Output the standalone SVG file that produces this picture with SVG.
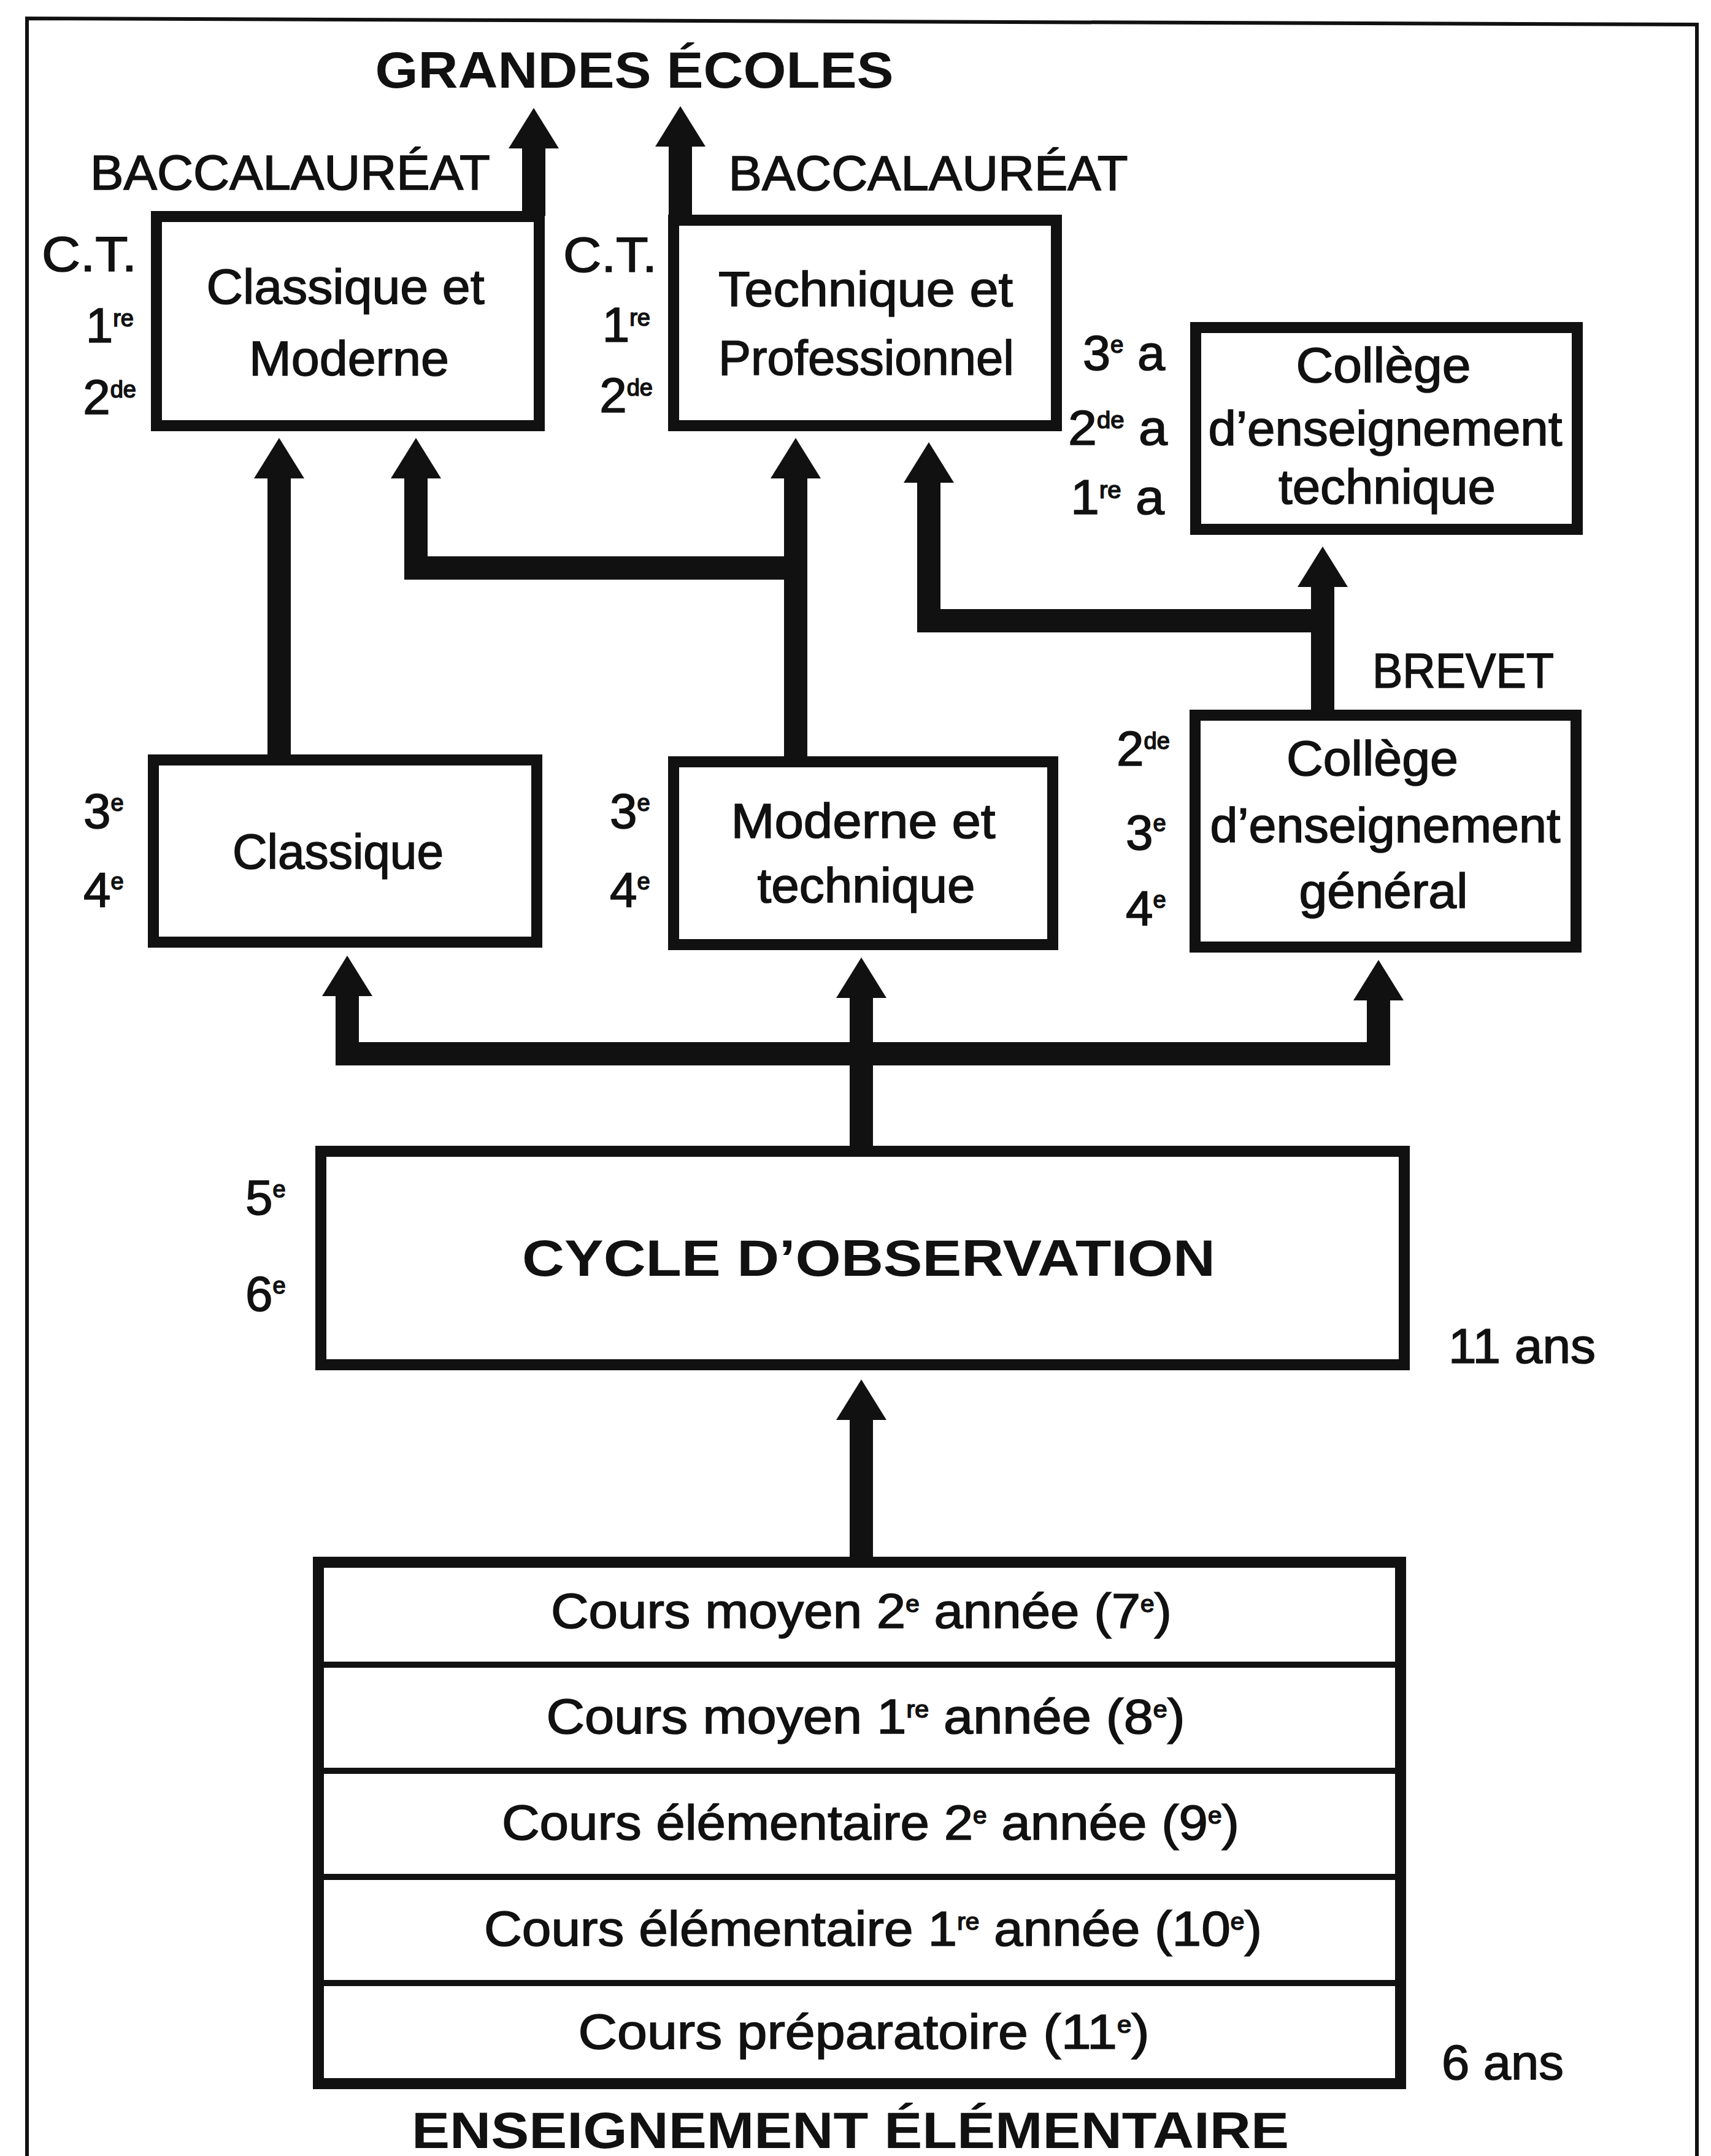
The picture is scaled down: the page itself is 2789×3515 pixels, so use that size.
<svg xmlns="http://www.w3.org/2000/svg" width="2789" height="3515" viewBox="0 0 2789 3515">
<defs>
<style>
.t{font-family:"Liberation Sans","DejaVu Sans",Arial,sans-serif;font-size:80px;fill:#111;stroke:#111;stroke-width:1.6px;}
.h{font-family:"Liberation Sans","DejaVu Sans",Arial,sans-serif;font-size:84px;font-weight:bold;fill:#111;}
.s{font-size:38px;}
.box{fill:#fff;stroke:#111;stroke-width:18;}
.dv{stroke:#111;stroke-width:10;fill:none;}
.c{fill:none;stroke:#111;stroke-width:38;stroke-linejoin:miter;stroke-linecap:butt;marker-end:url(#ah);}
.frame{fill:none;stroke:#111;stroke-width:6;}
</style>
<marker id="ah" markerUnits="userSpaceOnUse" markerWidth="66" markerHeight="82" viewBox="0 0 66 82" refX="1" refY="41" orient="auto">
<path d="M0,0 L66,41 L0,82 z" fill="#111"/>
</marker>
</defs>
<rect x="0" y="0" width="2789" height="3515" fill="#fff"/>
<path class="frame" d="M44,3520 L44,30 L2766,40 L2766,3520"/>

<g id="connectors">
<path class="c" d="M870,352 V241"/>
<path class="c" d="M1109,359 V238"/>
<path class="c" d="M455,1239 V779"/>
<path class="c" d="M1297,1242 V779"/>
<path class="c" d="M1297,926 H678 V779"/>
<path class="c" d="M2156,1166 V956"/>
<path class="c" d="M2156,1012 H1514 V786"/>
<path class="c" d="M1404,1877 V1626"/>
<path class="c" d="M1404,1718 H566 V1623"/>
<path class="c" d="M1404,1718 H2247 V1630"/>
<path class="c" d="M1404,2547 V2314"/>
</g>

<g id="titles">
<text class="h" x="1034" y="143" text-anchor="middle" textLength="845" lengthAdjust="spacingAndGlyphs">GRANDES ÉCOLES</text>
<text class="t" x="473" y="309" text-anchor="middle" textLength="652" lengthAdjust="spacingAndGlyphs">BACCALAURÉAT</text>
<text class="t" x="1513" y="310" text-anchor="middle" textLength="651" lengthAdjust="spacingAndGlyphs">BACCALAURÉAT</text>
<text class="t" x="2385" y="1121" text-anchor="middle" textLength="296" lengthAdjust="spacingAndGlyphs">BREVET</text>
<text class="h" x="1386" y="3502" text-anchor="middle" textLength="1430" lengthAdjust="spacingAndGlyphs">ENSEIGNEMENT ÉLÉMENTAIRE</text>
</g>

<g id="labels">
<text class="t" x="68" y="442" textLength="155" lengthAdjust="spacingAndGlyphs">C.T.</text>
<text class="t" x="218" y="558" text-anchor="end">1<tspan class="s" dy="-26">re</tspan></text>
<text class="t" x="222" y="675" text-anchor="end">2<tspan class="s" dy="-27">de</tspan></text>
<text class="t" x="918" y="443" textLength="153" lengthAdjust="spacingAndGlyphs">C.T.</text>
<text class="t" x="1060" y="557" text-anchor="end">1<tspan class="s" dy="-26">re</tspan></text>
<text class="t" x="1064" y="672" text-anchor="end">2<tspan class="s" dy="-27">de</tspan></text>
<text class="t" x="1765" y="603" textLength="134" lengthAdjust="spacingAndGlyphs">3<tspan class="s" dy="-28">e</tspan><tspan dy="28"> a</tspan></text>
<text class="t" x="1741" y="725" textLength="162" lengthAdjust="spacingAndGlyphs">2<tspan class="s" dy="-27">de</tspan><tspan dy="27"> a</tspan></text>
<text class="t" x="1745" y="838" textLength="153" lengthAdjust="spacingAndGlyphs">1<tspan class="s" dy="-26">re</tspan><tspan dy="26"> a</tspan></text>
<text class="t" x="136" y="1350">3<tspan class="s" dy="-28">e</tspan></text>
<text class="t" x="136" y="1478">4<tspan class="s" dy="-28">e</tspan></text>
<text class="t" x="994" y="1350">3<tspan class="s" dy="-28">e</tspan></text>
<text class="t" x="994" y="1478">4<tspan class="s" dy="-28">e</tspan></text>
<text class="t" x="1820" y="1248">2<tspan class="s" dy="-27">de</tspan></text>
<text class="t" x="1835" y="1385">3<tspan class="s" dy="-30">e</tspan></text>
<text class="t" x="1835" y="1508">4<tspan class="s" dy="-28">e</tspan></text>
<text class="t" x="400" y="1980">5<tspan class="s" dy="-28">e</tspan></text>
<text class="t" x="400" y="2137">6<tspan class="s" dy="-28">e</tspan></text>
<text class="t" x="2361" y="2222" textLength="240" lengthAdjust="spacingAndGlyphs">11 ans</text>
<text class="t" x="2350" y="3390" textLength="199" lengthAdjust="spacingAndGlyphs">6 ans</text>
</g>

<g id="node-classique-moderne">
<rect class="box" x="255" y="353" width="624" height="341"/>
<text class="t" x="563" y="495" text-anchor="middle" textLength="453" lengthAdjust="spacingAndGlyphs">Classique et</text>
<text class="t" x="569" y="612" text-anchor="middle" textLength="326" lengthAdjust="spacingAndGlyphs">Moderne</text>
</g>

<g id="node-technique-professionnel">
<rect class="box" x="1098" y="359" width="624" height="335"/>
<text class="t" x="1411" y="499" text-anchor="middle" textLength="480" lengthAdjust="spacingAndGlyphs">Technique et</text>
<text class="t" x="1412" y="611" text-anchor="middle" textLength="482" lengthAdjust="spacingAndGlyphs">Professionnel</text>
</g>

<g id="node-college-technique">
<rect class="box" x="1949" y="534" width="622" height="329"/>
<text class="t" x="2255" y="623" text-anchor="middle" textLength="285" lengthAdjust="spacingAndGlyphs">Collège</text>
<text class="t" x="2258" y="726" text-anchor="middle" textLength="577" lengthAdjust="spacingAndGlyphs">d’enseignement</text>
<text class="t" x="2261" y="821" text-anchor="middle" textLength="354" lengthAdjust="spacingAndGlyphs">technique</text>
</g>

<g id="node-classique">
<rect class="box" x="250" y="1239" width="625" height="297"/>
<text class="t" x="551" y="1416" text-anchor="middle" textLength="344" lengthAdjust="spacingAndGlyphs">Classique</text>
</g>

<g id="node-moderne-technique">
<rect class="box" x="1098" y="1242" width="618" height="298"/>
<text class="t" x="1407" y="1366" text-anchor="middle" textLength="431" lengthAdjust="spacingAndGlyphs">Moderne et</text>
<text class="t" x="1412" y="1471" text-anchor="middle" textLength="355" lengthAdjust="spacingAndGlyphs">technique</text>
</g>

<g id="node-college-general">
<rect class="box" x="1948" y="1166" width="621" height="378"/>
<text class="t" x="2237" y="1264" text-anchor="middle" textLength="280" lengthAdjust="spacingAndGlyphs">Collège</text>
<text class="t" x="2258" y="1373" text-anchor="middle" textLength="571" lengthAdjust="spacingAndGlyphs">d’enseignement</text>
<text class="t" x="2255" y="1480" text-anchor="middle" textLength="275" lengthAdjust="spacingAndGlyphs">général</text>
</g>

<g id="node-cycle">
<rect class="box" x="523" y="1877" width="1766" height="348"/>
<text class="h" x="1416" y="2080" text-anchor="middle" textLength="1130" lengthAdjust="spacingAndGlyphs">CYCLE D’OBSERVATION</text>
</g>

<g id="node-elementaire">
<rect class="box" x="519" y="2547" width="1764" height="850"/>
<path class="dv" d="M519,2714 H2283 M519,2887 H2283 M519,3060 H2283 M519,3233 H2283"/>
<text class="t" x="1404" y="2654" text-anchor="middle" textLength="1012" lengthAdjust="spacingAndGlyphs">Cours moyen 2<tspan class="s" dy="-26">e</tspan><tspan dy="26"> année (7</tspan><tspan class="s" dy="-26">e</tspan><tspan dy="26">)</tspan></text>
<text class="t" x="1411" y="2826" text-anchor="middle" textLength="1041" lengthAdjust="spacingAndGlyphs">Cours moyen 1<tspan class="s" dy="-26">re</tspan><tspan dy="26"> année (8</tspan><tspan class="s" dy="-26">e</tspan><tspan dy="26">)</tspan></text>
<text class="t" x="1419" y="2999" text-anchor="middle" textLength="1202" lengthAdjust="spacingAndGlyphs">Cours élémentaire 2<tspan class="s" dy="-26">e</tspan><tspan dy="26"> année (9</tspan><tspan class="s" dy="-26">e</tspan><tspan dy="26">)</tspan></text>
<text class="t" x="1423" y="3172" text-anchor="middle" textLength="1268" lengthAdjust="spacingAndGlyphs">Cours élémentaire 1<tspan class="s" dy="-26">re</tspan><tspan dy="26"> année (10</tspan><tspan class="s" dy="-26">e</tspan><tspan dy="26">)</tspan></text>
<text class="t" x="1408" y="3340" text-anchor="middle" textLength="931" lengthAdjust="spacingAndGlyphs">Cours préparatoire (11<tspan class="s" dy="-26">e</tspan><tspan dy="26">)</tspan></text>
</g>
</svg>
